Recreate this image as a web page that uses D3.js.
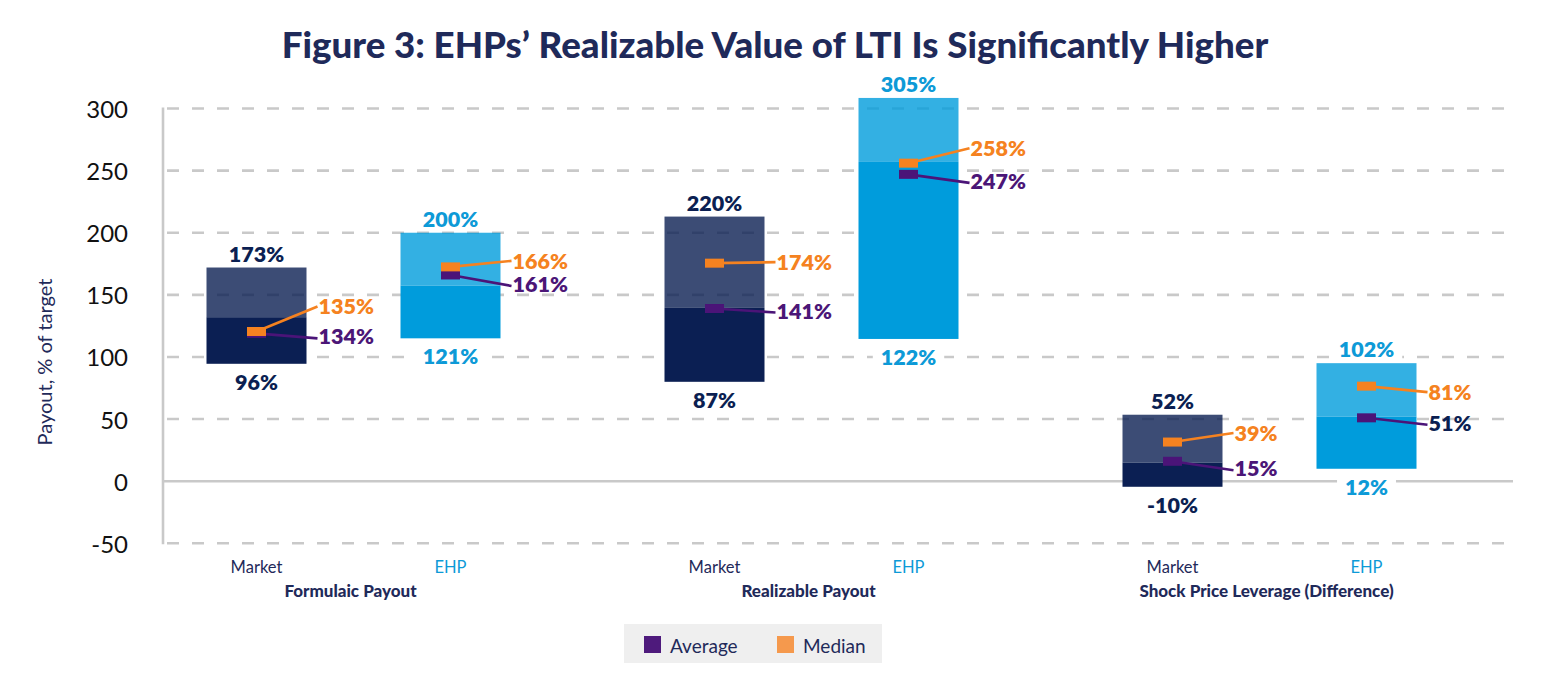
<!DOCTYPE html>
<html>
<head>
<meta charset="utf-8">
<script src="https://cdn.jsdelivr.net/npm/d3@7"></script>
<style>
  html, body { margin: 0; padding: 0; background: #ffffff; }
  svg { display: block; font-family: Lato, "Open Sans", "Noto Sans", sans-serif; }
</style>
</head>
<body>
<svg id="chart" width="1550" height="700"></svg>
<script>
// ---------------- data ----------------
const groups = ["Formulaic Payout", "Realizable Payout", "Shock Price Leverage (Difference)"];
const series = ["Market", "EHP"];
// bars in order: Formulaic Market, Formulaic EHP, Realizable Market, Realizable EHP, Shock Market, Shock EHP
const barGroup  = ["Formulaic Payout", "Formulaic Payout", "Realizable Payout", "Realizable Payout",
                   "Shock Price Leverage (Difference)", "Shock Price Leverage (Difference)"];
const barSeries = ["Market", "EHP", "Market", "EHP", "Market", "EHP"];
const barLow    = [94.5, 115, 80, 114.5, -4.5, 10];
const barMid    = [132, 157.5, 139.5, 257, 15, 52];
const barHigh   = [172, 200, 213, 308.5, 53.5, 95];
const avgValue  = [119, 166, 139, 247, 16, 51];
const medValue  = [120.5, 172.5, 175.5, 256, 31.5, 76.5];
const highLabels = ["173%", "200%", "220%", "305%", "52%", "102%"];
const lowLabels  = ["96%", "121%", "87%", "122%", "-10%", "12%"];
const avgLabels  = ["134%", "161%", "141%", "247%", "15%", "51%"];
const medLabels  = ["135%", "166%", "174%", "258%", "39%", "81%"];
const yTicks = [-50, 0, 50, 100, 150, 200, 250, 300];
const legendItems = ["Average", "Median"];

// ---------------- layout / style ----------------
const navy = "#1f2a5a";
const colMarket = "#0b1f53";
const colEHP = "#009cdc";
const colOrange = "#f58220";
const colPurple = "#4b1478";
const lblMarket = "#0b1f52";
const lblEHP = "#0d9ad7";
const lblPurple = "#4b1677";
const gridCol = "#c9c9c9";
// label vertical offsets (px) relative to marker centres: [median, average]
const labelDy = [[-25, 3], [-6, 9], [-1, 2], [-15, 6.5], [-9, 7], [6, 5]];

const svg = d3.select("#chart");
const y = d3.scaleLinear().domain([-50, 300]).range([543.3, 108.5]);
const xGroup = d3.scalePoint().domain(groups).range([353.5, 1269.5]);
const xSub = d3.scalePoint().domain(series).range([-97, 97]);
const barW = 100;
const xLeft = 163, xRight = 1513;
const cx = i => xGroup(barGroup[i]) + xSub(barSeries[i]);

// title
const title = svg.append("text")
  .attr("x", 775).attr("y", 58)
  .attr("text-anchor", "middle")
  .attr("font-weight", 900).attr("font-size", 32)
  .attr("fill", navy)
  .text("Figure 3: EHPs\u2019 Realizable Value of LTI Is Significantly Higher");
{
  const w = title.node().getComputedTextLength();
  if (w > 0) title.attr("font-size", Math.max(26, Math.min(38, 32 * 987 / w)));
}

// gridlines
const grid = svg.append("g");
grid.selectAll("line").data(yTicks).join("line")
  .attr("x1", xLeft).attr("x2", xRight)
  .attr("y1", d => y(d)).attr("y2", d => y(d))
  .attr("stroke", gridCol).attr("stroke-width", 2.6)
  .attr("stroke-dasharray", d => d === 0 ? null : "12,13")
  .attr("stroke-dashoffset", -4);
// vertical axis line
svg.append("line")
  .attr("x1", xLeft).attr("x2", xLeft)
  .attr("y1", y(300) - 1).attr("y2", y(-50) + 1)
  .attr("stroke", gridCol).attr("stroke-width", 2.6);

// y tick labels
svg.append("g").selectAll("text").data(yTicks).join("text")
  .attr("x", 128).attr("y", d => y(d))
  .attr("text-anchor", "end").attr("dominant-baseline", "central")
  .attr("font-size", 24).attr("fill", "#111")
  .text(d => d);

// y axis title
svg.append("text")
  .attr("transform", "translate(44,362) rotate(-90)")
  .attr("text-anchor", "middle").attr("dominant-baseline", "central")
  .attr("font-size", 20).attr("fill", navy)
  .text("Payout, % of target");

const idx = d3.range(barLow.length);
const baseColor = i => barSeries[i] === "Market" ? colMarket : colEHP;
const lblColor = i => barSeries[i] === "Market" ? lblMarket : lblEHP;

// bars: dark part low->mid, light part mid->high
const bars = svg.append("g");
bars.selectAll("rect.dark").data(idx).join("rect").attr("class", "dark")
  .attr("x", i => cx(i) - barW / 2).attr("width", barW)
  .attr("y", i => y(barMid[i])).attr("height", i => y(barLow[i]) - y(barMid[i]))
  .attr("fill", baseColor);
bars.selectAll("rect.light").data(idx).join("rect").attr("class", "light")
  .attr("x", i => cx(i) - barW / 2).attr("width", barW)
  .attr("y", i => y(barHigh[i])).attr("height", i => y(barMid[i]) - y(barHigh[i]))
  .attr("fill", baseColor).attr("fill-opacity", 0.8);

// value label helper
function label(g, x, yy, txt, color, anchor) {
  return g.append("text")
    .attr("x", x).attr("y", yy)
    .attr("text-anchor", anchor).attr("dominant-baseline", "central")
    .attr("font-size", 21.5).attr("font-weight", 800)
    .attr("fill", color).text(txt);
}
const lab = svg.append("g");
idx.forEach(i => {
  const tb = label(lab, cx(i), y(barLow[i]) + 18, lowLabels[i], lblColor(i), "middle");
  const bb = tb.node().getBBox();
  lab.insert("rect", "text").attr("x", bb.x - 8).attr("y", bb.y + 2)
    .attr("width", bb.width + 16).attr("height", bb.height - 4).attr("fill", "#fff");
  const tt = label(lab, cx(i), y(barHigh[i]) - 14, highLabels[i], lblColor(i), "middle");
  const bt = tt.node().getBBox();
  lab.insert("rect", "text").attr("x", bt.x - 8).attr("y", bt.y + 2)
    .attr("width", bt.width + 16).attr("height", bt.height - 4).attr("fill", "#fff");
});

// markers, connectors and their labels
const mk = svg.append("g");
const mW = 19, mH = 9;
idx.forEach(i => {
  const x0 = cx(i);
  const lx = x0 + barW / 2 + 12;
  const yMed = y(medValue[i]), yAvg = y(avgValue[i]);
  const lyMed = yMed + labelDy[i][0], lyAvg = yAvg + labelDy[i][1];
  mk.append("line").attr("x1", x0).attr("y1", yAvg).attr("x2", lx - 1).attr("y2", lyAvg + 2)
    .attr("stroke", colPurple).attr("stroke-width", 2.6);
  mk.append("line").attr("x1", x0).attr("y1", yMed).attr("x2", lx - 1).attr("y2", lyMed)
    .attr("stroke", colOrange).attr("stroke-width", 2.6);
  mk.append("rect").attr("x", x0 - mW / 2).attr("y", yAvg - mH / 2)
    .attr("width", mW).attr("height", mH).attr("fill", colPurple);
  mk.append("rect").attr("x", x0 - mW / 2).attr("y", yMed - mH / 2)
    .attr("width", mW).attr("height", mH).attr("fill", colOrange);
  label(mk, lx, lyMed, medLabels[i], colOrange, "start");
  label(mk, lx, lyAvg, avgLabels[i], i === 5 ? lblMarket : lblPurple, "start");
});

// x labels
svg.append("g").selectAll("text").data(idx).join("text")
  .attr("x", i => cx(i)).attr("y", 567)
  .attr("text-anchor", "middle").attr("dominant-baseline", "central")
  .attr("font-size", 16.5).attr("fill", i => barSeries[i] === "Market" ? navy : lblEHP)
  .text(i => barSeries[i]);
svg.append("g").selectAll("text").data(groups).join("text")
  .attr("x", d => xGroup(d) - 3).attr("y", 590)
  .attr("text-anchor", "middle").attr("dominant-baseline", "central")
  .attr("font-size", 17).attr("font-weight", 900).attr("fill", navy)
  .text(d => d);

// legend
const lg = svg.append("g");
lg.append("rect").attr("x", 624).attr("y", 624).attr("width", 258).attr("height", 39).attr("fill", "#efefef");
const legColors = ["#4e1a7c", "#f5994d"];
const legX = [644, 777];
legendItems.forEach((name, k) => {
  lg.append("rect").attr("x", legX[k]).attr("y", 636).attr("width", 17).attr("height", 17)
    .attr("fill", legColors[k]);
  lg.append("text").attr("x", legX[k] + 26).attr("y", 645)
    .attr("dominant-baseline", "central").attr("font-size", 19).attr("fill", navy)
    .text(name);
});
</script>
</body>
</html>
